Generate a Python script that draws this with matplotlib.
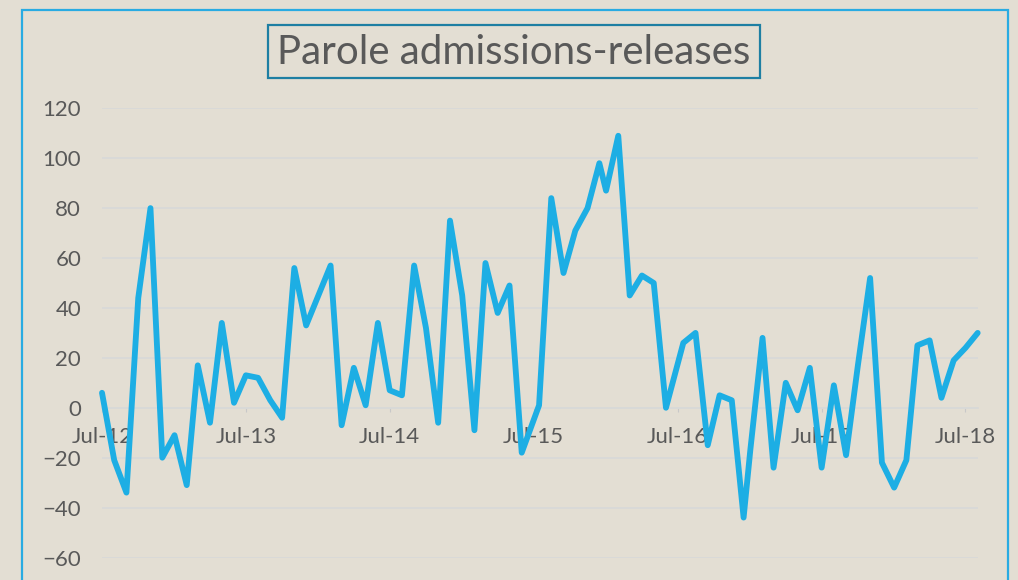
import numpy as np
import pandas as pd
import matplotlib
matplotlib.use('Agg')
import matplotlib.pyplot as plt
import matplotlib.dates as mdates
from matplotlib.patches import Rectangle

# monthly parole admissions minus releases, Jul-12 .. Aug-18
months = pd.date_range('2012-07-01', '2018-08-01', freq='MS')
values = [6, -21, -34, 44, 80, -20,
          -11, -31, 17, -6, 34, 2, 13, 12, 3, -4, 56, 33,
          45, 57, -7, 16, 1, 34, 7, 5, 57, 32, -6, 75,
          45, -9, 58, 38, 49, -18, 1, 84, 54, 71, 80, 98,
          87, 109, 45, 53, 50, 0, 26, 30, -15, 5, 3, -44,
          -17, 28, -24, 10, -1, 16, -24, 9, -19, 17, 52, -22,
          -32, -21, 25, 27, 4, 19, 24, 30]
# these months are stamped mid-month in the source sheet
mid_month = ['2015-07', '2015-08', '2015-09', '2015-10', '2015-11', '2015-12',
             '2016-07', '2016-08', '2016-09', '2016-10', '2016-11', '2016-12']
dates = [m + pd.Timedelta(days=14) if m.strftime('%Y-%m') in mid_month else m
         for m in months]

title = 'Parole admissions-releases'
y_ticks = np.arange(-60, 121, 20)

bg = '#E3DED3'
line_col = '#1DAEE4'
text_col = '#595959'
grid_col = '#D8D9D8'

plt.rcParams['font.family'] = ['Lato', 'DejaVu Sans']

fig = plt.figure(figsize=(10.18, 5.80), dpi=100, facecolor=bg)
ax = fig.add_axes([102 / 1018, 1 - 557.5 / 580, (977.7 - 102) / 1018, (557.5 - 108.3) / 580])
ax.set_facecolor(bg)

ax.plot(dates, values, color=line_col, lw=4.2, solid_joinstyle='round',
        solid_capstyle='round', zorder=3, clip_on=False)

ax.set_ylim(-60, 120)
ax.set_yticks(y_ticks)
ax.set_xlim(months[0], months[-1])
ax.xaxis.set_major_locator(mdates.MonthLocator(bymonth=7))
ax.xaxis.set_major_formatter(mdates.DateFormatter('%b-%y'))

ax.grid(axis='y', color=grid_col, lw=1.3)
ax.set_axisbelow(True)
for s in ['top', 'right', 'left']:
    ax.spines[s].set_visible(False)
ax.spines['bottom'].set_position(('data', 0))
ax.spines['bottom'].set_color(grid_col)
ax.spines['bottom'].set_linewidth(1.3)

ax.tick_params(axis='y', length=0, pad=15, labelsize=16, labelcolor=text_col)
ax.tick_params(axis='x', length=3, color='#C8C8C8', pad=11, labelsize=16, labelcolor=text_col)

# outer chart border and boxed title
fig.patches.append(Rectangle((22 / 1018, -0.1), (1008 - 22) / 1018, 1.1 - 10 / 580,
                             transform=fig.transFigure, fill=False,
                             edgecolor='#29ABE2', lw=1.6))
fig.patches.append(Rectangle((268 / 1018, 1 - 78 / 580), (760 - 268) / 1018, 53 / 580,
                             transform=fig.transFigure, fill=False,
                             edgecolor='#1E7FA3', lw=1.6))
fig.text(514 / 1018, 1 - 52 / 580, title, ha='center', va='center',
         fontsize=29, color=text_col)

fig.savefig('out.png', dpi=100, facecolor=bg)
